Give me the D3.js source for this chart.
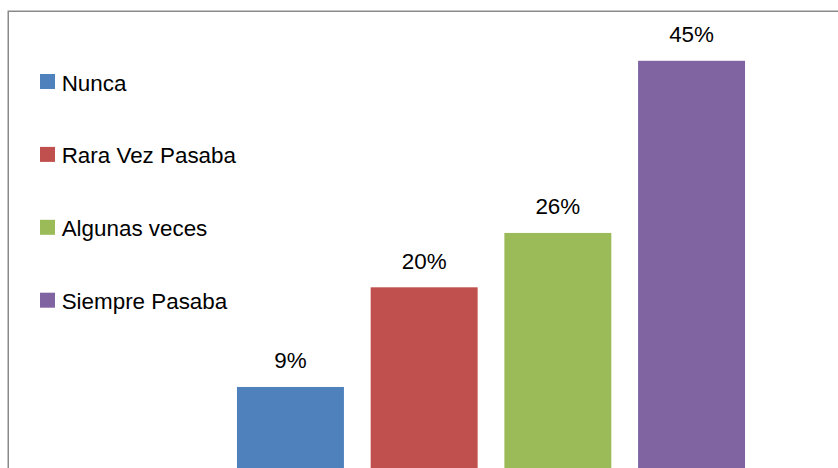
<!DOCTYPE html>
<html>
<head>
<meta charset="utf-8">
<script src="https://cdn.jsdelivr.net/npm/d3@7"></script>
<style>
html,body{margin:0;padding:0;background:#fff;}
svg{display:block;}
</style>
</head>
<body>
<svg id="chart" width="838" height="468"></svg>
<script>
const categories = ["Nunca", "Rara Vez Pasaba", "Algunas veces", "Siempre Pasaba"];
const values = [0.09, 0.20, 0.26, 0.45];
const valueLabels = ["9%", "20%", "26%", "45%"];
const colors = ["#4F81BD", "#C0504D", "#9BBB59", "#8064A2"];

const svg = d3.select("#chart");
const font = "'Liberation Sans', Arial, sans-serif";
const fs = 22.4;

// chart border (right/bottom extend off-canvas)
svg.append("rect")
  .attr("x", 8.25).attr("y", 11.25)
  .attr("width", 900).attr("height", 600)
  .attr("fill", "none").attr("stroke", "#8a8a8a").attr("stroke-width", 1.5);

const x = d3.scaleBand().domain(categories).range([223.6, 758.4])
  .paddingInner(0.2).paddingOuter(0.1);
const y = d3.scaleLinear().domain([0, 0.5]).range([468.5, 15.5]);

svg.selectAll("rect.bar").data(categories).join("rect")
  .attr("class", "bar")
  .attr("x", d => x(d))
  .attr("y", (d, i) => y(values[i]))
  .attr("width", x.bandwidth())
  .attr("height", (d, i) => y(0) - y(values[i]))
  .attr("fill", (d, i) => colors[i]);

svg.selectAll("text.val").data(categories).join("text")
  .attr("class", "val")
  .attr("x", d => x(d) + x.bandwidth() / 2)
  .attr("y", (d, i) => y(values[i]) - 18.5)
  .attr("text-anchor", "middle")
  .attr("font-family", font).attr("font-size", fs).attr("fill", "#000")
  .text((d, i) => valueLabels[i]);

// legend
const legendY = d3.scaleLinear().domain([0, 3]).range([74, 292.7]);
const lg = svg.selectAll("g.leg").data(categories).join("g")
  .attr("class", "leg")
  .attr("transform", (d, i) => `translate(40,${legendY(i)})`);
lg.append("rect").attr("width", 15).attr("height", 15)
  .attr("fill", (d, i) => colors[i]);
lg.append("text").attr("x", 21.7).attr("y", 16.5)
  .attr("font-family", font).attr("font-size", fs).attr("fill", "#000")
  .text(d => d);
</script>
</body>
</html>
